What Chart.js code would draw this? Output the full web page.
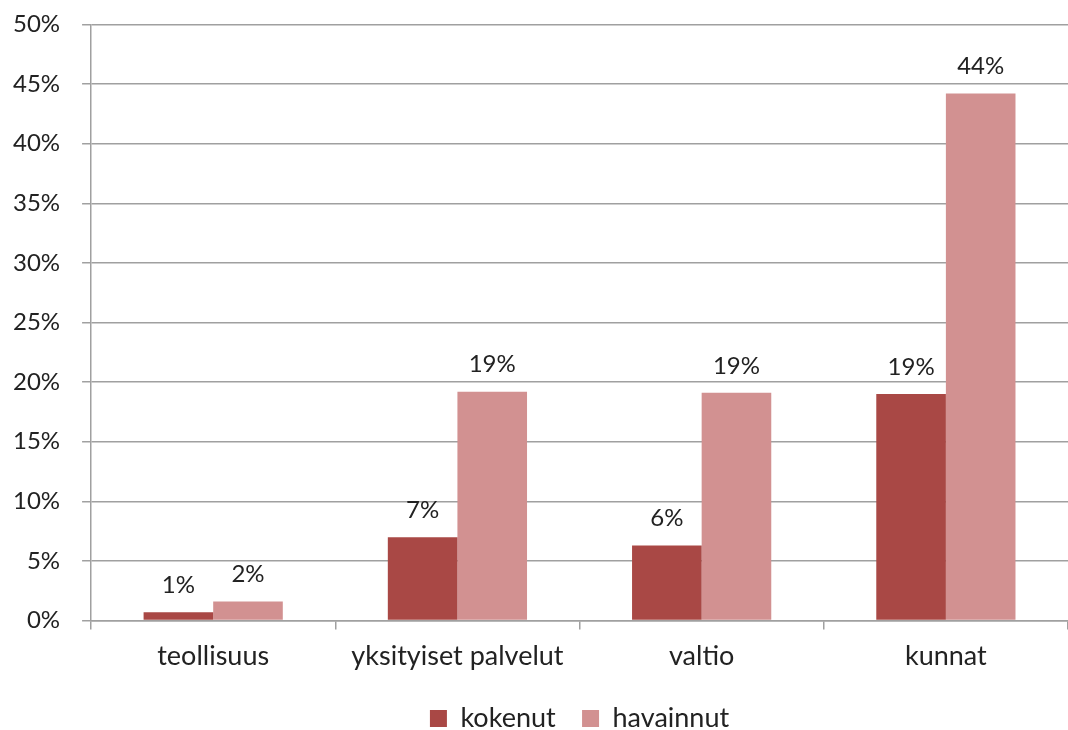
<!DOCTYPE html>
<html>
<head>
<meta charset="utf-8">
<script src="https://cdn.jsdelivr.net/npm/chart.js@4/dist/chart.umd.min.js"></script>
<style>
  html, body { margin: 0; padding: 0; background: #fff; }
  #wrap { width: 1068px; height: 730px; }
</style>
</head>
<body>
<div id="wrap"><canvas id="myChart" width="1068" height="730"></canvas></div>
<script>
const kategoriat = ["teollisuus", "yksityiset palvelut", "valtio", "kunnat"]
const kokenut = [0.7, 7.0, 6.3, 19.0]
const havainnut = [1.6, 19.2, 19.1, 44.2]
const yTicks = [0, 5, 10, 15, 20, 25, 30, 35, 40, 45, 50]

const fontti = "Lato, 'Open Sans', sans-serif"
const viiva = "#a0a0a0"

// arvot palkkien päälle
const arvoTekstit = {
    id: "arvoTekstit",
    afterDatasetsDraw(chart) {
        const ctx = chart.ctx
        ctx.save()
        ctx.font = "24px " + fontti
        ctx.fillStyle = "#222"
        ctx.textAlign = "center"
        ctx.textBaseline = "bottom"
        chart.data.datasets.forEach((ds, i) => {
            chart.getDatasetMeta(i).data.forEach((bar, j) => {
                ctx.fillText(Math.round(ds.data[j]) + "%", bar.x, bar.y - 15)
            })
        })
        ctx.restore()
    }
}

const grafico = document.getElementById("myChart").getContext("2d")
const myChart = new Chart(grafico, {
    type: "bar",
    data: {
        labels: kategoriat,
        datasets: [
            {
                label: "kokenut",
                data: kokenut,
                backgroundColor: "#a94845",
                categoryPercentage: 0.57,
                barPercentage: 1
            },
            {
                label: "havainnut",
                data: havainnut,
                backgroundColor: "#d29191",
                categoryPercentage: 0.57,
                barPercentage: 1
            }
        ]
    },
    options: {
        responsive: false,
        animation: false,
        layout: {
            // kuvaaja jatkuu oikealla kuvan reunan yli kuten alkuperäisessä
            padding: { top: 0, right: -19, left: 3, bottom: -12 }
        },
        plugins: {
            legend: {
                position: "bottom",
                fullSize: false,
                labels: {
                    font: { family: fontti, size: 27 },
                    color: "#222",
                    boxWidth: 17,
                    boxHeight: 17,
                    padding: 23,
                    generateLabels: chart => {
                        const items = Chart.defaults.plugins.legend.labels.generateLabels(chart)
                        items[0].text = items[0].text + "\u2009"
                        return items
                    }
                }
            },
            tooltip: { enabled: false }
        },
        scales: {
            x: {
                grid: {
                    display: true,
                    drawOnChartArea: false,
                    color: viiva,
                    lineWidth: 1.5,
                    tickLength: 9
                },
                border: { color: viiva, width: 1.5 },
                ticks: {
                    font: { family: fontti, size: 27 },
                    color: "#222",
                    padding: 10
                }
            },
            y: {
                min: 0,
                max: 50,
                afterBuildTicks: axis => {
                    axis.ticks = yTicks.map(v => ({ value: v }))
                },
                grid: {
                    color: viiva,
                    lineWidth: 1.5,
                    tickLength: 9
                },
                border: { color: viiva, width: 1.5 },
                ticks: {
                    font: { family: fontti, size: 24 },
                    color: "#222",
                    padding: 10,
                    callback: v => v + "%\u2002"
                }
            }
        }
    },
    plugins: [arvoTekstit]
})
</script>
</body>
</html>
